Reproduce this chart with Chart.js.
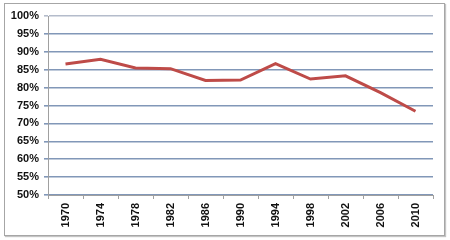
<!DOCTYPE html>
<html>
<head>
<meta charset="utf-8">
<script src="https://cdn.jsdelivr.net/npm/chart.js@4"></script>
<style>
  body { margin: 0; background: #fff; }
  #box {
    position: absolute; left: 4px; top: 3px;
    width: 439px; height: 231px;
    border: 1px solid #a6a6a6;
    box-shadow: 1px 1px 1px #c4c4c4;
  }
  #chart { position: absolute; left: 0; top: 0; }
</style>
</head>
<body>
<div id="box"><canvas id="chart" width="439" height="231"></canvas></div>
<script>
const years = ["1970", "1974", "1978", "1982", "1986", "1990", "1994", "1998", "2002", "2006", "2010"];
const shares = [86.6, 87.9, 85.5, 85.3, 82.0, 82.1, 86.7, 82.4, 83.3, 78.6, 73.4];
const yMin = 50;
const yMax = 100;
const yStep = 5;

document.addEventListener("DOMContentLoaded", () => {
  const labelFont = { family: "'Liberation Sans', Arial, sans-serif", size: 11, weight: "bold" };

  new Chart(document.getElementById("chart"), {
    type: "line",
    data: {
      labels: years,
      datasets: [{
        data: shares,
        borderColor: "#be4b48",
        borderWidth: 3,
        pointRadius: 0,
        tension: 0,
        fill: false
      }]
    },
    options: {
      responsive: false,
      animation: false,
      layout: { padding: { left: 0, right: 11, top: 12, bottom: 0 } },
      plugins: { legend: { display: false }, tooltip: { enabled: false } },
      scales: {
        x: {
          offset: true,
          grid: {
            offset: true,
            drawOnChartArea: false,
            drawTicks: true,
            tickLength: 4,
            color: "#a0a0a0"
          },
          border: { color: "#a0a0a0", width: 1 },
          ticks: {
            color: "#111",
            font: labelFont,
            minRotation: 90,
            maxRotation: 90,
            padding: 4,
            autoSkip: false
          },
          afterFit: (scale) => { scale.height = 40; }
        },
        y: {
          min: yMin,
          max: yMax,
          grid: {
            color: (ctx) => ctx.tick && ctx.tick.value === yMax ? "#b4bccb" : "#8197b8",
            lineWidth: 1.6,
            tickLength: 4
          },
          border: { color: "#a0a0a0", width: 1 },
          ticks: {
            stepSize: yStep,
            color: "#111",
            font: labelFont,
            padding: 5,
            callback: (v) => v + "%"
          },
          afterFit: (scale) => { scale.width = 43; }
        }
      }
    }
  });
});
</script>
</body>
</html>
